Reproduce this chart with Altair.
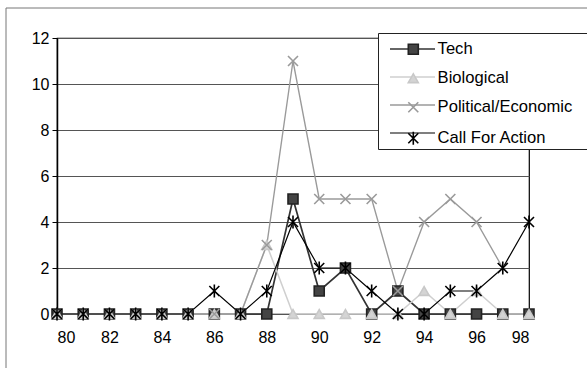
import altair as alt
import pandas as pd

years = list(range(80, 99))
series_names = ["Tech", "Biological", "Political/Economic", "Call For Action"]

tech = [0, 0, 0, 0, 0, 0, 0, 0, 0, 5, 1, 2, 0, 1, 0, 0, 0, 0, 0]
biological = [0, 0, 0, 0, 0, 0, 0, 0, 3, 0, 0, 0, 0, 0, 1, 0, 1, 0, 0]
political = [0, 0, 0, 0, 0, 0, 0, 0, 3, 11, 5, 5, 5, 1, 4, 5, 4, 2, None]
call_for_action = [0, 0, 0, 0, 0, 0, 1, 0, 1, 4, 2, 2, 1, 0, 0, 1, 1, 2, 4]

line_colors = ["#333333", "#cfcfcf", "#9a9a9a", "#000000"]
line_widths = [1.7, 1.2, 1.5, 2.4]
marker_fills = ["#444444", "#d4d4d4", "transparent", "transparent"]
marker_strokes = ["#222222", "#c8c8c8", "#9a9a9a", "#000000"]
marker_shapes = [
    "square",
    "triangle-up",
    "M-1,-1L1,1M-1,1L1,-1",
    "M-1,-1L1,1M-1,1L1,-1M0,-1.3L0,1.3",
]

# marker keys carry a trailing space so the marker legend stays separate
# from the line legend (legends with identical domains get merged)
marker_keys = [n + " " for n in series_names]

rows = []
for name, key, vals in zip(series_names, marker_keys,
                           [tech, biological, political, call_for_action]):
    for yr, v in zip(years, vals):
        rows.append({"year": yr, "value": v, "series": name, "marker": key})
df = pd.DataFrame(rows)

FONT = "Liberation Sans"
W, H = 472, 276
LEG_Y = -5
ROW_PAD = 12

x_enc = alt.X(
    "year:Q",
    scale=alt.Scale(domain=[80, 98], nice=False),
    axis=alt.Axis(
        values=list(range(80, 99, 2)), format="d", title=None, grid=False,
        domain=False, ticks=False, labelPadding=15, labelFontSize=16,
        labelFont=FONT, labelColor="#000",
    ),
)
y_enc = alt.Y(
    "value:Q",
    scale=alt.Scale(domain=[0, 12], nice=False),
    axis=alt.Axis(
        values=list(range(0, 13, 2)), title=None, grid=True, gridColor="#555",
        gridWidth=1, domain=True, domainColor="#000", domainWidth=1.5,
        ticks=True, tickSize=5, tickColor="#000", labelPadding=3,
        labelFontSize=16, labelFont=FONT, labelColor="#000",
    ),
)

# Line legend: draws the framed box and a line sample for each series
lines = alt.Chart(df).mark_line().encode(
    x=x_enc,
    y=y_enc,
    color=alt.Color(
        "series:N",
        scale=alt.Scale(domain=series_names, range=line_colors),
        legend=alt.Legend(
            orient="none", legendX=321, legendY=LEG_Y, title=None,
            symbolType="M-0.8,0L8.2,0", symbolSize=100, padding=8,
            rowPadding=ROW_PAD, labelFontSize=16, labelFont=FONT,
            labelExpr="''", labelOffset=180,
            fillColor="white", strokeColor="#222",
        ),
    ),
    strokeWidth=alt.StrokeWidth(
        "series:N", scale=alt.Scale(domain=series_names, range=line_widths),
        legend=None,
    ),
    order=alt.Order("year:Q"),
)

# Marker legend: sits on top of the line samples and carries the labels
points = alt.Chart(df).mark_point(size=100, strokeWidth=1.6, opacity=1).encode(
    x="year:Q",
    y="value:Q",
    shape=alt.Shape(
        "marker:N",
        scale=alt.Scale(domain=marker_keys, range=marker_shapes),
        legend=alt.Legend(
            orient="none", legendX=340, legendY=LEG_Y, title=None,
            padding=8, rowPadding=ROW_PAD, labelFontSize=16.6, labelFont=FONT,
            labelColor="#000", labelOffset=16, symbolSize=100,
            symbolStrokeWidth=1.6,
        ),
    ),
    fill=alt.Fill(
        "marker:N", scale=alt.Scale(domain=marker_keys, range=marker_fills)
    ),
    stroke=alt.Stroke(
        "marker:N", scale=alt.Scale(domain=marker_keys, range=marker_strokes)
    ),
)

# Outer frame of the chart area (left and top edges)
frame_left = alt.Chart().mark_rule(color="#777", strokeWidth=1).encode(
    x=alt.value(-51), y=alt.value(-30), y2=alt.value(330)
)
frame_top = alt.Chart().mark_rule(color="#777", strokeWidth=1).encode(
    x=alt.value(-51), x2=alt.value(530), y=alt.value(-30)
)

chart = (
    alt.layer(frame_left, frame_top, lines, points)
    .properties(
        width=W, height=H, autosize="none",
        padding={"left": 57, "top": 38, "right": 58, "bottom": 57},
        background="white",
    )
    .configure_view(stroke="#000", strokeWidth=1.2)
)

chart.save("out.html", embed_options={"renderer": "svg", "actions": False})
